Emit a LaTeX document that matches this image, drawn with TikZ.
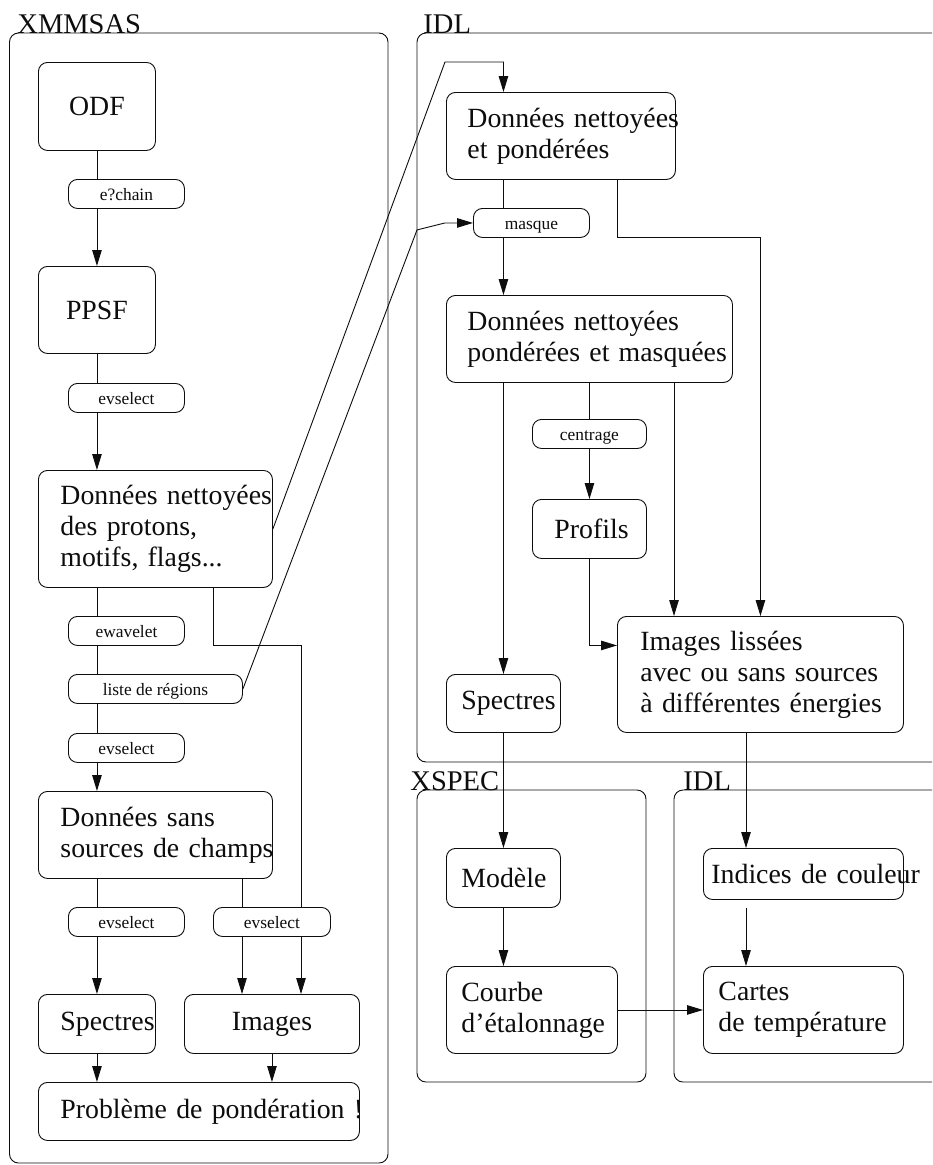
\documentclass[tikz,border=0pt]{standalone}
\usepackage{fontspec}
\setmainfont{Liberation Serif}
\usetikzlibrary{arrows.meta,calc,backgrounds}
\definecolor{FlowInk}{gray}{0.05}
\hyphenpenalty=10000
\exhyphenpenalty=10000
\newcommand{\stagefont}{\fontsize{27.8}{31}\selectfont}
\newcommand{\toolfont}{\fontsize{17.4}{20}\selectfont}
\newcommand{\groupfont}{\fontsize{28.5}{30}\selectfont}
\tikzset{
    flow/diagram/.style={
        x=1pt, y=-1pt,
        draw=FlowInk,
        text=FlowInk,
        line width=0.9pt,
        line join=round
    },
    flow/group/.style={draw=FlowInk, line width=0.9pt, rounded corners=9pt},
    flow/grouplabel/.style={anchor=base west, inner sep=0pt, font=\groupfont},
    flow/stage/.style={
        draw=FlowInk, fill=white, rounded corners=9pt,
        anchor=north west, align=left,
        inner xsep=22pt, inner ysep=0pt, font=\stagefont
    },
    flow/tool/.style={
        draw=FlowInk, fill=white, rounded corners=9pt,
        anchor=north west, inner sep=0pt,
        minimum height=29pt, text height=13pt, text depth=0pt,
        font=\toolfont
    },
    flow/line/.style={draw=FlowInk, line width=0.9pt},
    flow/arrow/.style={
        draw=FlowInk, line width=0.9pt,
        -{Triangle[length=16pt, width=9.5pt]}
    }
}

\begin{document}
\begin{tikzpicture}[flow/diagram]
    \useasboundingbox (0,0) rectangle (932,1165);
    \clip (0,0) rectangle (932,1165);

    % groups
    \draw[flow/group] (9.5,33) rectangle (388,1163);
    \node[flow/grouplabel] (xmmsas) at (17,33) {XMMSAS};
    \draw[flow/group] (417,33) rectangle (960,762);
    \node[flow/grouplabel] (idla) at (423,33) {IDL};
    \draw[flow/group] (417,790) rectangle (646,1082);
    \node[flow/grouplabel] (xspec) at (410,790) {XSPEC};
    \draw[flow/group] (674,790) rectangle (960,1082);
    \node[flow/grouplabel] (idlb) at (683,790) {IDL};

    % XMMSAS
    \node[flow/stage, align=center, text width=73pt, minimum height=88pt] (odf) at (38,62) {ODF};
    \node[flow/tool, minimum width=116pt] (echain) at (68,179) {e?chain};
    \node[flow/stage, align=center, text width=73pt, minimum height=87pt] (ppsf) at (38,266) {PPSF};
    \node[flow/tool, minimum width=116pt] (evsa) at (68,383) {evselect};
    \node[flow/stage, text width=190pt, minimum height=117pt] (nett) at (38,470)
        {Données~nettoyées\\des protons,\\motifs, flags...};
    \node[flow/tool, minimum width=116pt] (ewav) at (68,616) {ewavelet};
    \node[flow/tool, minimum width=174pt] (liste) at (68,674) {liste de régions};
    \node[flow/tool, minimum width=116pt] (evsb) at (68,733) {evselect};
    \node[flow/stage, text width=190pt, minimum height=87pt] (sans) at (38,791)
        {Données sans\\sources~de~champs};
    \node[flow/tool, minimum width=116pt] (evsc) at (68,907) {evselect};
    \node[flow/tool, minimum width=117pt] (evsd) at (213,907) {evselect};
    \node[flow/stage, text width=73pt, minimum height=59pt] (spectra) at (38,994) {Spectres};
    \node[flow/stage, align=center, text width=131pt, minimum height=59pt] (images) at (184,994) {Images};
    \node[flow/stage, text width=277pt, minimum height=58pt] (prob) at (38,1082)
        {Problème~de~pondération~!};

    % IDL
    \node[flow/stage, inner xsep=21pt, text width=187pt, minimum height=87pt] (pond) at (446,92)
        {Données~nettoyées\\et pondérées};
    \node[flow/tool, minimum width=116pt] (masque) at (473,208) {masque};
    \node[flow/stage, inner xsep=21pt, text width=244pt, minimum height=87pt] (masq) at (446,295)
        {Données~nettoyées\\pondérées~et~masquées};
    \node[flow/tool, minimum width=114pt] (centr) at (532,419) {centrage};
    \node[flow/stage, align=center, text width=70pt, minimum height=59pt] (prof) at (532,499) {Profils};
    \node[flow/stage, inner xsep=15pt, text width=84pt, minimum height=58pt] (spectrb) at (446,674) {Spectres};
    \node[flow/stage, inner xsep=23pt, text width=240pt, minimum height=116pt] (lisse) at (617,616)
        {Images lissées\\avec~ou~sans~sources\\à~différentes~énergies};

    % XSPEC
    \node[flow/stage, inner xsep=15pt, text width=84pt, minimum height=59pt] (model) at (446,848) {Modèle};
    \node[flow/stage, inner xsep=15pt, text width=141pt, minimum height=87pt] (courbe) at (446,966)
        {Courbe\\d’étalonnage};

    % IDL (second)
    \node[flow/stage, inner xsep=8pt, text width=184pt, minimum height=51pt] (indice) at (703,848)
        {Indices~de~couleur};
    \node[flow/stage, inner xsep=15pt, text width=170pt, minimum height=87pt] (carte) at (703,966)
        {Cartes\\de~température};

    \begin{pgfonlayer}{background}
        \draw[flow/arrow] (odf.south) -- (ppsf.north);
        \draw[flow/arrow] (ppsf.south) -- (ppsf.south |- nett.north);
        \draw[flow/arrow] (odf.south |- nett.south) -- (odf.south |- sans.north);
        \draw[flow/arrow] (spectra.north |- sans.south) -- (spectra.north);
        \draw[flow/arrow] ($(sans.south west)+(204,0)$) -- ($(images.north west)+(58,0)$);
        \draw[flow/arrow] ($(nett.south west)+(175,0)$) -- ++(0,58) -| ($(images.north west)+(117,0)$);
        \draw[flow/arrow] (spectra.south) -- (spectra.south |- prob.north);
        \draw[flow/arrow] (images.south) -- (images.south |- prob.north);
        \draw[flow/arrow] (nett.east) -- ($(pond.north west)+(-1,-30)$) -| (spectrb.north |- pond.north);
        \draw[flow/arrow] (liste.east) -- ($(masque.west)+(-56,7)$) -- ($(masque.west)+(-28,0)$) -- (masque.west);
        \draw[flow/arrow] (spectrb.north |- pond.south) -- (spectrb.north |- masq.north);
        \draw[flow/arrow] ($(pond.south west)+(171,0)$) -- ++(0,58) -| (lisse.north);
        \draw[flow/arrow] (spectrb.north |- masq.south) -- (spectrb.north);
        \draw[flow/arrow] (prof.north |- masq.south) -- (prof.north);
        \draw[flow/arrow] ($(masq.south west)+(228,0)$) -- ($(lisse.north west)+(57,0)$);
        \draw[flow/arrow] (prof.south) |- ($(lisse.west)+(0,-29)$);
        \draw[flow/arrow] (spectrb.south) -- (model.north);
        \draw[flow/arrow] ($(lisse.south west)+(129,0)$) -- ($(indice.north west)+(43,0)$);
        \draw[flow/arrow] (model.south) -- (model.south |- courbe.north);
        \draw[flow/arrow] ($(indice.south west)+(43,8)$) -- ($(carte.north west)+(43,0)$);
        \draw[flow/arrow] (courbe.east) -- (courbe.east -| carte.west);
    \end{pgfonlayer}
\end{tikzpicture}
\end{document}
